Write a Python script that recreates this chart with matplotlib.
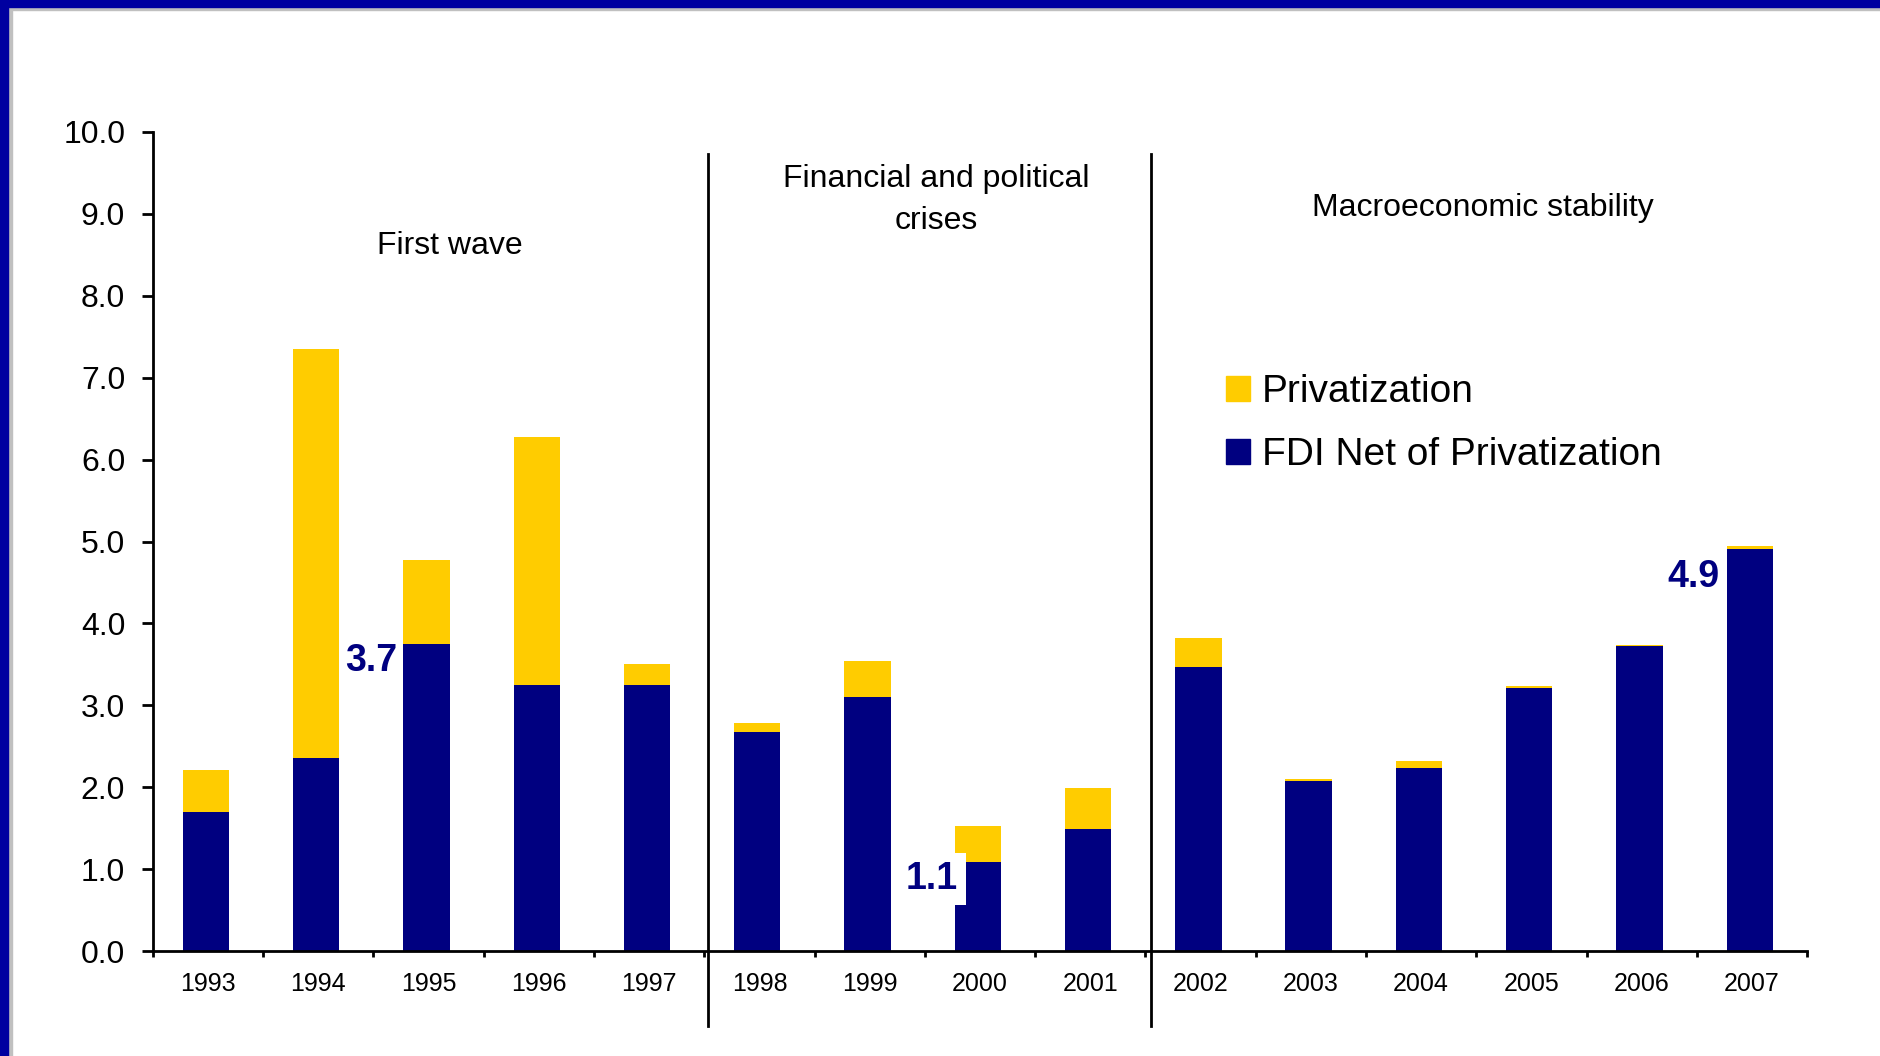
import numpy as np
import matplotlib
matplotlib.use("Agg")
import matplotlib.pyplot as plt
from matplotlib.patches import Patch, Rectangle

plt.rcParams['font.family'] = ['Liberation Sans', 'DejaVu Sans']

# FDI, split into net-of-privatization and privatization parts
years = ['1993', '1994', '1995', '1996', '1997', '1998', '1999', '2000',
         '2001', '2002', '2003', '2004', '2005', '2006', '2007']
fdi_net = [1.70, 2.36, 3.75, 3.25, 3.25, 2.67, 3.10, 1.09,
           1.49, 3.47, 2.07, 2.24, 3.21, 3.72, 4.91]
privatization = [0.51, 4.99, 1.02, 3.03, 0.26, 0.11, 0.44, 0.44,
                 0.50, 0.35, 0.03, 0.08, 0.03, 0.02, 0.03]

phase_names = ['First wave', 'Financial and political\ncrises', 'Macroeconomic stability']
phase_breaks = [4.53, 8.55]

label_text = ['3.7', '1.1', '4.9']
label_pos = [(1.48, 3.54), (6.56, 0.88), (13.47, 4.57)]
label_pad = [0, 6, 0]

navy = '#000080'
gold = '#FFCC00'

fig = plt.figure(figsize=(18.81, 10.56), dpi=100)
ax = fig.add_axes([0.0813, 0.0994, 0.8794, 0.7756])

x = np.arange(len(years))
ax.bar(x - 0.02, fdi_net, width=0.42, color=navy, label='FDI Net of Privatization')
ax.bar(x - 0.02, privatization, width=0.42, bottom=fdi_net, color=gold, label='Privatization')

ax.set_xlim(-0.5, len(years) - 0.5)
ax.set_ylim(0, 10)
ax.set_yticks(np.arange(0, 11, 1))
ax.set_yticklabels(['%.1f' % v for v in np.arange(0, 11, 1)], fontsize=23)
ax.set_xticks(x)
ax.set_xticklabels(years, fontsize=18)
ax.set_xticks(np.arange(-0.5, len(years), 1), minor=True)
ax.tick_params(axis='x', which='major', length=0, pad=15)
ax.tick_params(axis='x', which='minor', length=4.5, width=2, direction='out')
ax.tick_params(axis='y', length=8, width=2, direction='out', pad=12)

for s in ['top', 'right']:
    ax.spines[s].set_visible(False)
for s in ['left', 'bottom']:
    ax.spines[s].set_linewidth(2)

# phase separators, running below the axis
for b in phase_breaks:
    ax.plot([b, b], [-0.92, 9.73], color='black', lw=2, clip_on=False)

ax.text(2.19, 8.61, phase_names[0], ha='center', va='center', fontsize=23)
ax.text(6.60, 9.17, phase_names[1], ha='center', va='center', fontsize=23,
        linespacing=1.5)
ax.text(11.56, 9.07, phase_names[2], ha='center', va='center', fontsize=23)

for t, (px, py), pd in zip(label_text, label_pos, label_pad):
    ax.text(px, py, t, ha='center', va='center', fontsize=27, fontweight='bold',
            color=navy, bbox=dict(facecolor='white', edgecolor='none', pad=pd))

handles = [Patch(color=gold, label='Privatization'),
           Patch(color=navy, label='FDI Net of Privatization')]
fig.legend(handles=handles, loc='upper left', bbox_to_anchor=(1226 / 1881, 1 - 374 / 1056),
           frameon=False, fontsize=28, handlelength=0.62, handleheight=0.62,
           handletextpad=0.3, labelspacing=0.7, borderpad=0, borderaxespad=0)

# slide frame: blue band top and left with grey inner line
W, H = 1881, 1056
fig.patches.append(Rectangle((0, 1 - 7 / H), 1, 7 / H, transform=fig.transFigure,
                             color='#0000A0', zorder=10))
fig.patches.append(Rectangle((0, 0), 8 / W, 1, transform=fig.transFigure,
                             color='#0000A0', zorder=10))
fig.patches.append(Rectangle((8 / W, 1 - 10 / H), 1, 3 / H, transform=fig.transFigure,
                             color='#C0C0C0', zorder=9))
fig.patches.append(Rectangle((8 / W, 0), 3.5 / W, 1 - 7 / H, transform=fig.transFigure,
                             color='#C0C0C0', zorder=9))

fig.savefig('out.png', dpi=100)
